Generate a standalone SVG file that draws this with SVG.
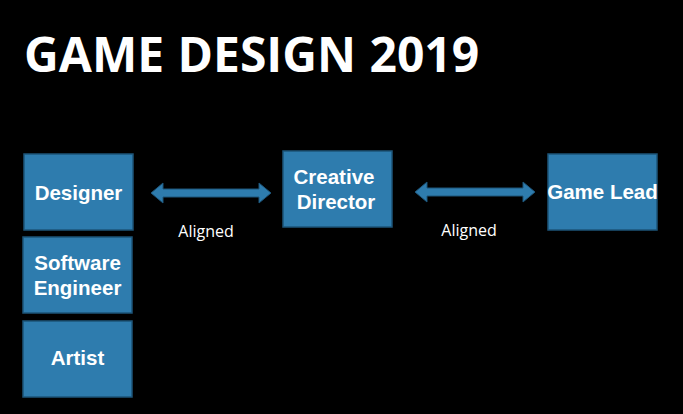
<svg xmlns="http://www.w3.org/2000/svg" width="683" height="414" viewBox="0 0 683 414">
  <defs>
    <style>
      .title { font-family: "Open Sans", "Noto Sans", sans-serif; font-weight: 700; font-size: 48px; fill: #ffffff; word-spacing: 1px; }
      .box { fill: #2e7cae; stroke: #1d5478; stroke-width: 1.5; }
      .lbl { font-family: "Liberation Sans", Arial, sans-serif; font-weight: 700; font-size: 20.5px; fill: #ffffff; text-anchor: middle; }
      .arrow { fill: #2e7cae; stroke: #1d5478; stroke-width: 1; }
      .note { font-family: "Open Sans", "Noto Sans", sans-serif; font-size: 16px; fill: #ffffff; text-anchor: middle; }
    </style>
  </defs>
  <rect width="683" height="414" fill="#000000"/>
  <text class="title" x="24" y="72">GAME DESIGN 2019</text>

  <g id="designer">
    <rect class="box" x="24" y="154" width="109" height="76"/>
    <text class="lbl" x="78.5" y="200">Designer</text>
  </g>
  <g id="software-engineer">
    <rect class="box" x="23" y="237" width="109" height="76"/>
    <text class="lbl" x="77.5" y="270">Software</text>
    <text class="lbl" x="77.5" y="295">Engineer</text>
  </g>
  <g id="artist">
    <rect class="box" x="23" y="321" width="109" height="76"/>
    <text class="lbl" x="77.5" y="365">Artist</text>
  </g>
  <g id="creative-director">
    <rect class="box" x="283" y="151" width="109" height="76"/>
    <text class="lbl" x="334" y="184">Creative</text>
    <text class="lbl" x="336" y="209">Director</text>
  </g>
  <g id="game-lead">
    <rect class="box" x="548" y="154" width="109" height="76"/>
    <text class="lbl" x="602.5" y="199">Game Lead</text>
  </g>

  <g id="connectors">
    <path class="arrow" d="M151,193 L163,183 L163,189 L259,189 L259,183 L271,193 L259,203 L259,197 L163,197 L163,203 Z"/>
    <text class="note" x="206" y="237">Aligned</text>
    <path class="arrow" d="M415,192 L427,182 L427,188 L523,188 L523,182 L535,192 L523,202 L523,196 L427,196 L427,202 Z"/>
    <text class="note" x="469" y="236">Aligned</text>
  </g>
</svg>
